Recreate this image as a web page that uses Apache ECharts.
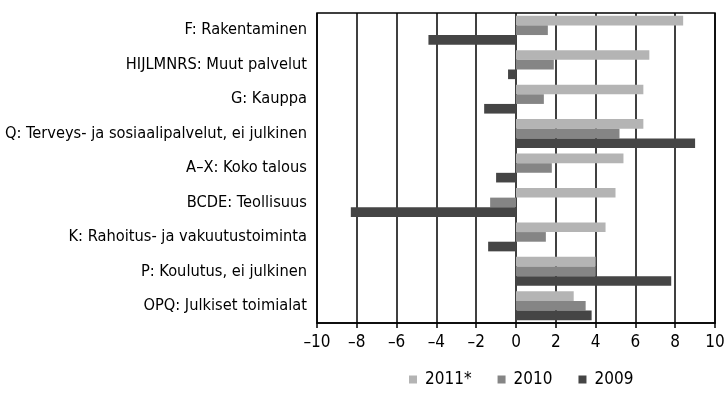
<!DOCTYPE html>
<html>
<head>
<meta charset="utf-8">
<script src="https://cdn.jsdelivr.net/npm/echarts@6/dist/echarts.min.js"></script>
<style>
  html, body { margin: 0; padding: 0; background: #fff; }
  #chart { width: 727px; height: 394px; }
</style>
</head>
<body>
<div id="chart"></div>
<script>
// Toimialat, ylhäältä alas
const categories = [
  'F: Rakentaminen',
  'HIJLMNRS: Muut palvelut',
  'G: Kauppa',
  'Q: Terveys- ja sosiaalipalvelut, ei julkinen',
  'A–X: Koko talous',
  'BCDE: Teollisuus',
  'K: Rahoitus- ja vakuutustoiminta',
  'P: Koulutus, ei julkinen',
  'OPQ: Julkiset toimialat'
];

// Muutos, %
const values2011 = [8.4, 6.7, 6.4, 6.4, 5.4, 5.0, 4.5, 4.0, 2.9];
const values2010 = [1.6, 1.9, 1.4, 5.2, 1.8, -1.3, 1.5, 4.0, 3.5];
const values2009 = [-4.4, -0.4, -1.6, 9.0, -1.0, -8.3, -1.4, 7.8, 3.8];

const seriesNames = ['2011*', '2010', '2009'];
const xTicks = { min: -10, max: 10, interval: 2 };

const FONT = '"Liberation Sans Narrow", "DejaVu Sans Condensed", "Liberation Sans", sans-serif';
const colors = ['#b4b4b4', '#858585', '#454545'];

const chart = echarts.init(document.getElementById('chart'), null, { renderer: 'canvas' });

const seriesData = [values2011, values2010, values2009];

chart.setOption({
  animation: false,
  textStyle: { fontFamily: FONT },
  grid: {
    left: 317, right: 12, top: 13, bottom: 71,
    outerBoundsMode: 'none',
    containLabel: false,
    show: true, borderColor: '#000', borderWidth: 1.5, backgroundColor: 'transparent'
  },
  legend: {
    top: 366,
    left: 404,
    itemWidth: 8,
    itemHeight: 8,
    itemGap: 26,
    icon: 'rect',
    textStyle: { fontFamily: FONT, fontSize: 17, color: '#000', padding: [0, 0, 0, 3] },
    data: seriesNames
  },
  xAxis: {
    type: 'value',
    min: xTicks.min, max: xTicks.max, interval: xTicks.interval,
    axisLine: { show: true, onZero: false, lineStyle: { color: '#000', width: 1.5 } },
    axisTick: { show: true, length: 5, lineStyle: { color: '#000', width: 1.5 } },
    splitLine: { show: true, lineStyle: { color: '#000', width: 1.5 } },
    axisLabel: {
      color: '#000', fontSize: 17, fontFamily: FONT, margin: 11,
      formatter: v => (v < 0 ? '–' + Math.abs(v) : String(v))
    }
  },
  yAxis: {
    type: 'category',
    inverse: true,
    data: categories,
    axisLine: { show: false },
    axisTick: { show: false },
    axisLabel: { color: '#000', fontSize: 16.3, fontFamily: FONT, margin: 10 }
  },
  series: seriesNames.map((name, i) => ({
    name,
    type: 'bar',
    data: seriesData[i],
    barGap: '0%',
    barCategoryGap: '16%',
    itemStyle: { color: colors[i] }
  }))
});
</script>
</body>
</html>
